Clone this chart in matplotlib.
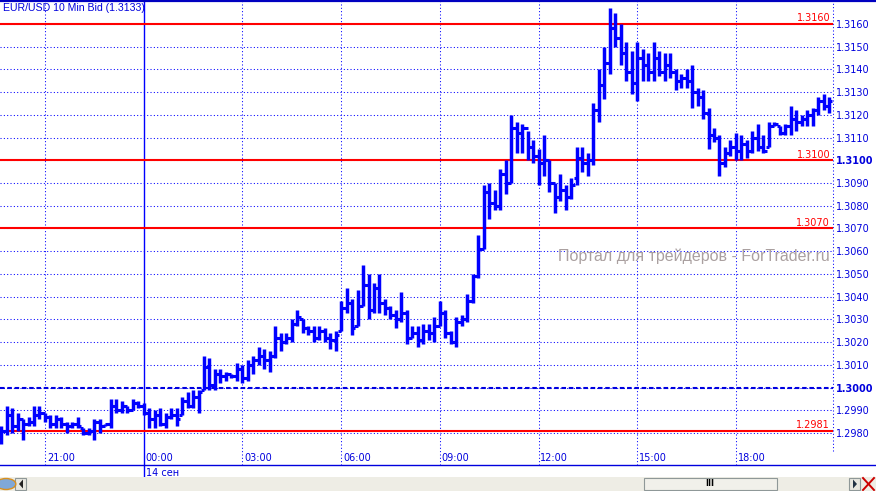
import numpy as np
import pandas as pd
import matplotlib
matplotlib.use("Agg")
import matplotlib.pyplot as plt
from matplotlib.lines import Line2D
from matplotlib.patches import Rectangle, Polygon, Circle

## 10 min bars, EUR/USD bid, from 13 Sep 19:40
start = pd.Timestamp("2010-09-13 19:40")

highs = [1.2983, 1.2992, 1.2991, 1.2989, 1.2986, 1.2987, 1.2992, 1.2992, 1.2989, 1.2988,
         1.2988, 1.2987, 1.2985, 1.2985, 1.2987, 1.2982, 1.2982, 1.2986, 1.2986, 1.2984,
         1.2995, 1.2995, 1.2994, 1.2992, 1.2995, 1.2994, 1.2993, 1.2991, 1.2990, 1.2991,
         1.2989, 1.2991, 1.2991, 1.2996, 1.2998, 1.2999, 1.2999, 1.3014, 1.3013, 1.3008,
         1.3008, 1.3007, 1.3006, 1.3011, 1.3010, 1.3012, 1.3014, 1.3018, 1.3017, 1.3016,
         1.3027, 1.3024, 1.3024, 1.3030, 1.3034, 1.3030, 1.3027, 1.3027, 1.3027, 1.3026,
         1.3024, 1.3025, 1.3038, 1.3044, 1.3039, 1.3043, 1.3054, 1.3050, 1.3046, 1.3050,
         1.3039, 1.3036, 1.3034, 1.3042, 1.3034, 1.3027, 1.3027, 1.3028, 1.3028, 1.3031,
         1.3038, 1.3034, 1.3025, 1.3031, 1.3032, 1.3041, 1.3050, 1.3067, 1.3089, 1.3090,
         1.3087, 1.3096, 1.3100, 1.3120, 1.3117, 1.3116, 1.3113, 1.3109, 1.3105, 1.3111,
         1.3100, 1.3090, 1.3094, 1.3089, 1.3092, 1.3106, 1.3106, 1.3103, 1.3125, 1.3140,
         1.3150, 1.3167, 1.3165, 1.3160, 1.3152, 1.3148, 1.3152, 1.3149, 1.3147, 1.3152,
         1.3148, 1.3147, 1.3147, 1.3140, 1.3138, 1.3140, 1.3142, 1.3132, 1.3131, 1.3123,
         1.3114, 1.3111, 1.3106, 1.3109, 1.3112, 1.3111, 1.3109, 1.3113, 1.3116, 1.3111,
         1.3117, 1.3117, 1.3115, 1.3116, 1.3124, 1.3122, 1.3120, 1.3122, 1.3123, 1.3128,
         1.3129, 1.3128]
lows = [1.2975, 1.2979, 1.2980, 1.2981, 1.2977, 1.2983, 1.2983, 1.2986, 1.2985, 1.2982,
        1.2982, 1.2982, 1.2980, 1.2982, 1.2982, 1.2979, 1.2979, 1.2977, 1.2980, 1.2983,
        1.2982, 1.2989, 1.2989, 1.2989, 1.2990, 1.2991, 1.2988, 1.2982, 1.2982, 1.2983,
        1.2982, 1.2986, 1.2983, 1.2988, 1.2991, 1.2991, 1.2989, 1.2999, 1.2999, 1.2999,
        1.3002, 1.3003, 1.3004, 1.3003, 1.3002, 1.3003, 1.3006, 1.3010, 1.3008, 1.3007,
        1.3013, 1.3016, 1.3019, 1.3020, 1.3027, 1.3024, 1.3023, 1.3020, 1.3021, 1.3020,
        1.3017, 1.3016, 1.3025, 1.3033, 1.3023, 1.3027, 1.3036, 1.3030, 1.3033, 1.3033,
        1.3032, 1.3030, 1.3026, 1.3029, 1.3019, 1.3022, 1.3018, 1.3019, 1.3021, 1.3020,
        1.3027, 1.3022, 1.3019, 1.3018, 1.3027, 1.3029, 1.3037, 1.3048, 1.3061, 1.3074,
        1.3078, 1.3078, 1.3085, 1.3090, 1.3103, 1.3103, 1.3100, 1.3099, 1.3089, 1.3093,
        1.3086, 1.3077, 1.3082, 1.3078, 1.3083, 1.3089, 1.3095, 1.3093, 1.3098, 1.3117,
        1.3127, 1.3138, 1.3150, 1.3142, 1.3135, 1.3129, 1.3126, 1.3135, 1.3135, 1.3135,
        1.3137, 1.3135, 1.3136, 1.3131, 1.3132, 1.3132, 1.3123, 1.3124, 1.3118, 1.3105,
        1.3108, 1.3093, 1.3097, 1.3102, 1.3100, 1.3100, 1.3101, 1.3103, 1.3104, 1.3103,
        1.3106, 1.3115, 1.3111, 1.3111, 1.3111, 1.3113, 1.3115, 1.3115, 1.3115, 1.3120,
        1.3122, 1.3121]
opens = [1.2977, 1.2981, 1.2988, 1.2983, 1.2986, 1.2984, 1.2985, 1.2988, 1.2989, 1.2987,
         1.2984, 1.2986, 1.2984, 1.2983, 1.2984, 1.2982, 1.2980, 1.2981, 1.2985, 1.2983,
         1.2984, 1.2992, 1.2990, 1.2992, 1.2990, 1.2993, 1.2992, 1.2989, 1.2986, 1.2988,
         1.2984, 1.2987, 1.2988, 1.2988, 1.2994, 1.2992, 1.2996, 1.2999, 1.3009, 1.3001,
         1.3006, 1.3005, 1.3006, 1.3005, 1.3008, 1.3004, 1.3010, 1.3012, 1.3014, 1.3012,
         1.3014, 1.3022, 1.3020, 1.3022, 1.3028, 1.3030, 1.3026, 1.3025, 1.3022, 1.3025,
         1.3022, 1.3021, 1.3025, 1.3035, 1.3037, 1.3027, 1.3036, 1.3045, 1.3034, 1.3044,
         1.3037, 1.3035, 1.3032, 1.3030, 1.3033, 1.3022, 1.3024, 1.3021, 1.3025, 1.3024,
         1.3027, 1.3033, 1.3024, 1.3020, 1.3029, 1.3030, 1.3038, 1.3049, 1.3061, 1.3086,
         1.3081, 1.3080, 1.3094, 1.3090, 1.3114, 1.3112, 1.3114, 1.3106, 1.3102, 1.3099,
         1.3100, 1.3090, 1.3084, 1.3087, 1.3084, 1.3092, 1.3101, 1.3099, 1.3100, 1.3122,
         1.3133, 1.3143, 1.3158, 1.3154, 1.3147, 1.3139, 1.3134, 1.3145, 1.3142, 1.3139,
         1.3145, 1.3139, 1.3142, 1.3139, 1.3135, 1.3136, 1.3135, 1.3130, 1.3128, 1.3121,
         1.3111, 1.3110, 1.3099, 1.3103, 1.3106, 1.3104, 1.3107, 1.3104, 1.3110, 1.3106,
         1.3106, 1.3115, 1.3115, 1.3112, 1.3115, 1.3118, 1.3117, 1.3118, 1.3120, 1.3122,
         1.3126, 1.3124]
closes = [1.2981, 1.2988, 1.2983, 1.2986, 1.2984, 1.2985, 1.2988, 1.2989, 1.2987, 1.2984,
          1.2986, 1.2984, 1.2983, 1.2984, 1.2983, 1.2980, 1.2981, 1.2985, 1.2983, 1.2984,
          1.2992, 1.2990, 1.2992, 1.2990, 1.2993, 1.2992, 1.2989, 1.2986, 1.2988, 1.2984,
          1.2987, 1.2988, 1.2986, 1.2994, 1.2992, 1.2996, 1.2998, 1.3009, 1.3001, 1.3006,
          1.3005, 1.3006, 1.3005, 1.3008, 1.3004, 1.3010, 1.3012, 1.3014, 1.3012, 1.3014,
          1.3022, 1.3020, 1.3022, 1.3028, 1.3031, 1.3026, 1.3025, 1.3022, 1.3025, 1.3022,
          1.3021, 1.3023, 1.3035, 1.3037, 1.3026, 1.3036, 1.3045, 1.3034, 1.3044, 1.3037,
          1.3035, 1.3032, 1.3030, 1.3033, 1.3022, 1.3024, 1.3021, 1.3025, 1.3024, 1.3027,
          1.3033, 1.3024, 1.3020, 1.3029, 1.3030, 1.3038, 1.3049, 1.3061, 1.3086, 1.3081,
          1.3080, 1.3094, 1.3090, 1.3114, 1.3112, 1.3114, 1.3106, 1.3102, 1.3099, 1.3100,
          1.3090, 1.3084, 1.3087, 1.3084, 1.3089, 1.3101, 1.3099, 1.3100, 1.3122, 1.3133,
          1.3143, 1.3158, 1.3154, 1.3147, 1.3139, 1.3134, 1.3145, 1.3142, 1.3139, 1.3145,
          1.3139, 1.3142, 1.3139, 1.3135, 1.3136, 1.3135, 1.3130, 1.3128, 1.3121, 1.3111,
          1.3110, 1.3099, 1.3103, 1.3106, 1.3104, 1.3107, 1.3104, 1.3110, 1.3106, 1.3104,
          1.3115, 1.3116, 1.3112, 1.3115, 1.3118, 1.3117, 1.3118, 1.3120, 1.3122, 1.3126,
          1.3124, 1.3126]

levels = [1.3160, 1.3100, 1.3070, 1.2981]
level_labels = ["1.3160", "1.3100", "1.3070", "1.2981"]
round_level = 1.3000
price_ticks = [1.2980 + 0.0010 * k for k in range(19)]
title = "EUR/USD 10 Min Bid (1.3133)"
day_label = "14 сен"
watermark = "Портал для трейдеров - ForTrader.ru"

BLUE = "#0000ff"
LBLUE = "#0000dd"
RED = "#ff0000"
W, H = 876, 491

def main():
    n = len(highs)
    x = np.arange(n)
    times = [start + pd.Timedelta(minutes=10 * i) for i in range(n + 1)]

    fig = plt.figure(figsize=(W / 100, H / 100), dpi=100)
    fig.patch.set_facecolor("white")
    ax = fig.add_axes([0, 26 / H, 833 / W, 464 / H])
    ax.set_facecolor("white")
    ax.set_xlim(-0.2, 151.7)
    ax.set_ylim(1.29659, 1.31701)
    for s in ax.spines.values():
        s.set_visible(False)

    ## grid
    dot = (0, (1, 2.2))
    for p in price_ticks:
        ax.axhline(p, color=BLUE, lw=0.75, ls=dot, zorder=1)
    for i, t in enumerate(times):
        if t.minute == 0 and t.hour % 3 == 0:
            if t.hour == 0:
                ax.axvline(i, ymin=-0.028, ymax=1, color=BLUE, lw=1.0, zorder=1, clip_on=False)
                ax.text(i + 0.45, -0.006, day_label, transform=ax.get_xaxis_transform(),
                        ha="left", va="top", fontsize=7, color=LBLUE)
            else:
                ax.axvline(i, color=BLUE, lw=0.75, ls=dot, zorder=1)
            if i < n:
                ax.text(i + 0.35, 0.005, "%02d:00" % t.hour, transform=ax.get_xaxis_transform(),
                        ha="left", va="bottom", fontsize=7, color=LBLUE)
    ax.axvline(151.7, ymin=0.03, ymax=1, color=BLUE, lw=0.75, ls=dot, clip_on=False)

    ## levels
    for lv, lb in zip(levels, level_labels):
        ax.axhline(lv, color=RED, lw=1.5, zorder=2)
        ax.text(0.9965, lv + 0.00003, lb, transform=ax.get_yaxis_transform(),
                ha="right", va="bottom", fontsize=7, color=RED)
    ax.axhline(round_level, color="#0000e0", lw=1.5, dashes=(2.2, 1.3), zorder=2)

    ## ohlc bars
    ax.vlines(x, lows, highs, color=BLUE, lw=2.5, zorder=3)
    ax.hlines(opens, x - 0.6, x, color=BLUE, lw=2.2, zorder=3)
    ax.hlines(closes, x, x + 0.6, color=BLUE, lw=2.2, zorder=3)

    ## price scale
    ax.set_xticks([])
    ax.yaxis.tick_right()
    ax.set_yticks(price_ticks)
    ax.set_yticklabels(["%.4f" % p for p in price_ticks])
    ax.tick_params(axis="y", length=0, pad=2, labelsize=7, labelcolor=LBLUE)
    for lab, p in zip(ax.get_yticklabels(), price_ticks):
        if abs(p - 1.3100) < 1e-6 or abs(p - 1.3000) < 1e-6:
            lab.set_fontweight("bold")

    ax.text(0.004, 0.995, title, transform=ax.transAxes, ha="left", va="top",
            fontsize=7.6, color=LBLUE, family="Liberation Sans")
    ax.text(694, H - 256, watermark, transform=None, fontsize=11.5, color="#aaa0a0",
            ha="center", va="center", family="Liberation Sans")

    ## frame lines
    fig.add_artist(Line2D([0, 1], [1 - 1 / H, 1 - 1 / H], color="#0000c0", lw=1.6))
    fig.add_artist(Line2D([0, 1], [26 / H, 26 / H], color=LBLUE, lw=1.0))

    ## scrollbar strip
    def fx(px): return px / W
    def fy(py): return 1 - py / H
    fig.add_artist(Rectangle((0, 0), 1, fy(477), transform=fig.transFigure,
                             facecolor="#eeede5", edgecolor="none"))
    fig.add_artist(Rectangle((fx(644), fy(490)), fx(133), 12 / H, transform=fig.transFigure,
                             facecolor="#f1f0ea", edgecolor="#8f9898", lw=0.8))
    fig.text(fx(710), fy(484), "III", ha="center", va="center", fontsize=6,
             fontweight="bold", color="black")
    for bx in (15, 849):
        fig.add_artist(Rectangle((fx(bx), fy(490)), fx(11), 12 / H, transform=fig.transFigure,
                                 facecolor="#e8e8e0", edgecolor="#8f9898", lw=0.8))
    fig.add_artist(Polygon([(fx(23), fy(479.5)), (fx(23), fy(488.5)), (fx(19), fy(484))],
                           closed=True, transform=fig.transFigure, facecolor="#222222"))
    fig.add_artist(Polygon([(fx(853), fy(479.5)), (fx(853), fy(488.5)), (fx(857), fy(484))],
                           closed=True, transform=fig.transFigure, facecolor="#223344"))
    fig.add_artist(Circle((fx(6), fy(484)), 5.5 / H, transform=fig.transFigure,
                          facecolor="#7fa8d8", edgecolor="#d89020", lw=1.0))
    fig.add_artist(Line2D([fx(863), fx(874)], [fy(478), fy(490)], color="#cc0000", lw=1.4))
    fig.add_artist(Line2D([fx(863), fx(874)], [fy(490), fy(478)], color="#cc0000", lw=1.4))

    fig.savefig("out.png", dpi=100, facecolor="white")


if __name__ == "__main__":
    main()
